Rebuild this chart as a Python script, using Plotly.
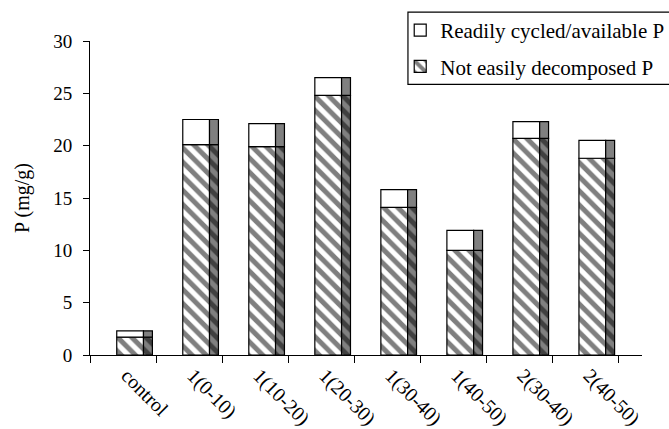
import plotly.graph_objects as go

categories = ["control", "1(0-10)", "1(10-20)", "1(20-30)", "1(30-40)", "1(40-50)", "2(30-40)", "2(40-50)"]
not_easily = [1.7, 20.1, 19.9, 24.8, 14.1, 10.0, 20.7, 18.8]
total = [2.3, 22.5, 22.1, 26.5, 15.8, 11.9, 22.3, 20.5]
readily = [t - b for t, b in zip(total, not_easily)]

FONT = "Times New Roman, Liberation Serif, DejaVu Serif, serif"
FRONT_OFF, FRONT_W = -0.095, 0.405
SIDE_OFF, SIDE_W = 0.31, 0.135
hatch = dict(shape="\\", fgcolor="black", size=10, solidity=0.5)

fig = go.Figure()
# front faces
fig.add_trace(go.Bar(
    x=categories, y=not_easily, base=[0] * len(categories),
    name="Not easily decomposed P", legendrank=2, legendgroup="b",
    offset=FRONT_OFF, width=FRONT_W,
    marker=dict(color="white", line=dict(color="black", width=1.2),
                pattern=dict(**hatch, bgcolor="white")),
))
fig.add_trace(go.Bar(
    x=categories, y=readily, base=not_easily,
    name="Readily cycled/available P", legendrank=1, legendgroup="a",
    offset=FRONT_OFF, width=FRONT_W,
    marker=dict(color="white", line=dict(color="black", width=1.2)),
))
# side faces (3-D depth)
fig.add_trace(go.Bar(
    x=categories, y=not_easily, base=[0] * len(categories),
    showlegend=False, hoverinfo="skip",
    offset=SIDE_OFF, width=SIDE_W,
    marker=dict(color="#808080", line=dict(color="black", width=1.2),
                pattern=dict(**hatch, bgcolor="#808080")),
))
fig.add_trace(go.Bar(
    x=categories, y=readily, base=not_easily,
    showlegend=False, hoverinfo="skip",
    offset=SIDE_OFF, width=SIDE_W,
    marker=dict(color="#808080", line=dict(color="black", width=1.2)),
))

# legend frame (box runs off the right edge, as in the reference)
fig.add_shape(type="rect", xref="paper", yref="paper",
              x0=0.576, x1=1.2, y0=0.862, y1=1.092,
              line=dict(color="black", width=1.2), fillcolor="white", layer="below")

fig.update_layout(
    width=669, height=429,
    margin=dict(l=90, r=27, t=41, b=74, autoexpand=False),
    paper_bgcolor="white", plot_bgcolor="white",
    barmode="overlay",
    font=dict(family=FONT, size=18, color="black"),
    showlegend=True,
    legend=dict(
        x=0.562, y=1.099, xanchor="left", yanchor="top",
        borderwidth=0, bgcolor="rgba(0,0,0,0)",
        font=dict(family=FONT, size=21, color="black"),
        traceorder="grouped", itemwidth=30, tracegroupgap=6,
    ),
    xaxis=dict(
        type="category", range=[-0.5, 7.86], automargin=False,
        tickson="boundaries", ticks="outside", ticklen=7, tickcolor="black",
        showline=True, linecolor="black", linewidth=1,
        showgrid=False, tickangle=45, ticklabelshift=4,
        tickfont=dict(family=FONT, size=20),
    ),
    yaxis=dict(
        range=[0, 30], tickvals=[0, 5, 10, 15, 20, 25, 30], automargin=False,
        ticks="outside", ticklen=6, tickcolor="black",
        showline=True, linecolor="black", linewidth=1,
        showgrid=False, zeroline=False, ticklabelstandoff=7,
        tickfont=dict(family=FONT, size=19),
        title=dict(text="P (mg/g)", font=dict(family=FONT, size=20), standoff=18),
    ),
)

fig.write_html(
    "out.html",
    config={"displayModeBar": False},
    post_script="document.body.style.margin='0';document.body.style.padding='0';",
)
